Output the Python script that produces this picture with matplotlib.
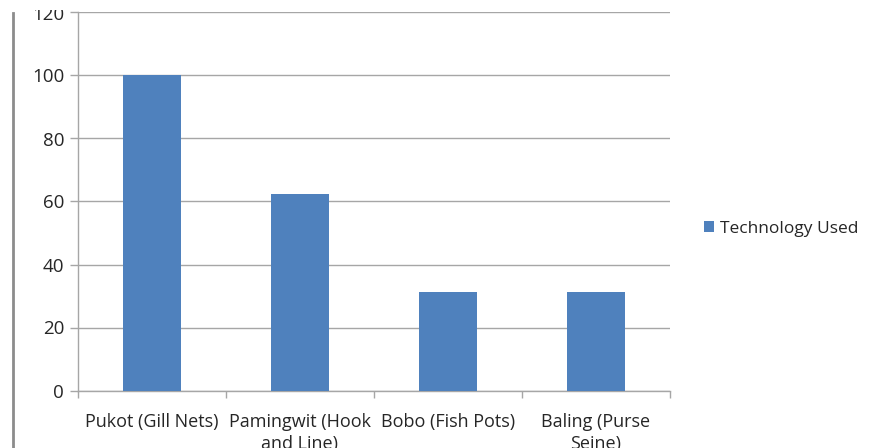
import matplotlib.pyplot as plt
from matplotlib.lines import Line2D
from matplotlib.patches import Patch, Rectangle

# Chart values
categories = ["Pukot (Gill Nets)", "Pamingwit (Hook\nand Line)", "Bobo (Fish Pots)", "Baling (Purse\nSeine)"]
values = [100, 62.5, 31.25, 31.25]
series_name = "Technology Used"
y_ticks = [0, 20, 40, 60, 80, 100, 120]

bar_color = "#4F81BD"
grid_color = "#A6A6A6"
text_color = "#262626"

plt.rcParams["font.family"] = ["Open Sans", "DejaVu Sans"]

W, H = 870, 448
fig = plt.figure(figsize=(W / 100, H / 100), dpi=100)
# plot area: x 78..670, y 13..390 (pixels from top)
ax = fig.add_axes([78 / W, 1 - 390.5 / H, (670 - 78) / W, (390.5 - 12.5) / H])

x = list(range(len(categories)))
ax.bar(x, values, width=0.39, color=bar_color, zorder=3)

ax.set_xlim(-0.5, len(categories) - 0.5)
ax.set_ylim(0, 120)
ax.set_yticks(y_ticks)
ax.set_yticklabels([str(v) for v in y_ticks], fontsize=13.5, color=text_color)

# category labels centred, ticks at category boundaries
ax.set_xticks(x)
ax.set_xticklabels(categories, fontsize=13, color=text_color, linespacing=1.27, va="top")
ax.tick_params(axis="x", length=0, pad=16)
ax.set_xticks([i - 0.5 for i in range(len(categories) + 1)], minor=True)
ax.tick_params(axis="x", which="minor", length=5, color=grid_color, width=1)
ax.tick_params(axis="y", length=6, color=grid_color, width=1, pad=4)

ax.grid(axis="y", color=grid_color, linewidth=1, zorder=0)
for side in ["top", "right"]:
    ax.spines[side].set_visible(False)
for side in ["left", "bottom"]:
    ax.spines[side].set_color(grid_color)
    ax.spines[side].set_linewidth(1)

handle = Patch(facecolor=bar_color, edgecolor="none")
fig.legend([handle], [series_name], loc="center left", bbox_to_anchor=(704 / W, 1 - 229 / H),
           frameon=False, fontsize=12.5, handlelength=0.6, handleheight=0.6,
           handletextpad=0.35, borderpad=0, borderaxespad=0, labelcolor=text_color)

# border line at far left of the cropped chart
fig.add_artist(Line2D([13 / W, 13 / W], [0, 1 - 13 / H], transform=fig.transFigure,
                      color="#8C8C8C", linewidth=2))
# the reference is cropped just above the top tick label
fig.add_artist(Rectangle((0, 1 - 10 / H), 1, 10 / H, transform=fig.transFigure,
                         facecolor="white", edgecolor="none", zorder=10))

fig.savefig("out.png", dpi=100)
